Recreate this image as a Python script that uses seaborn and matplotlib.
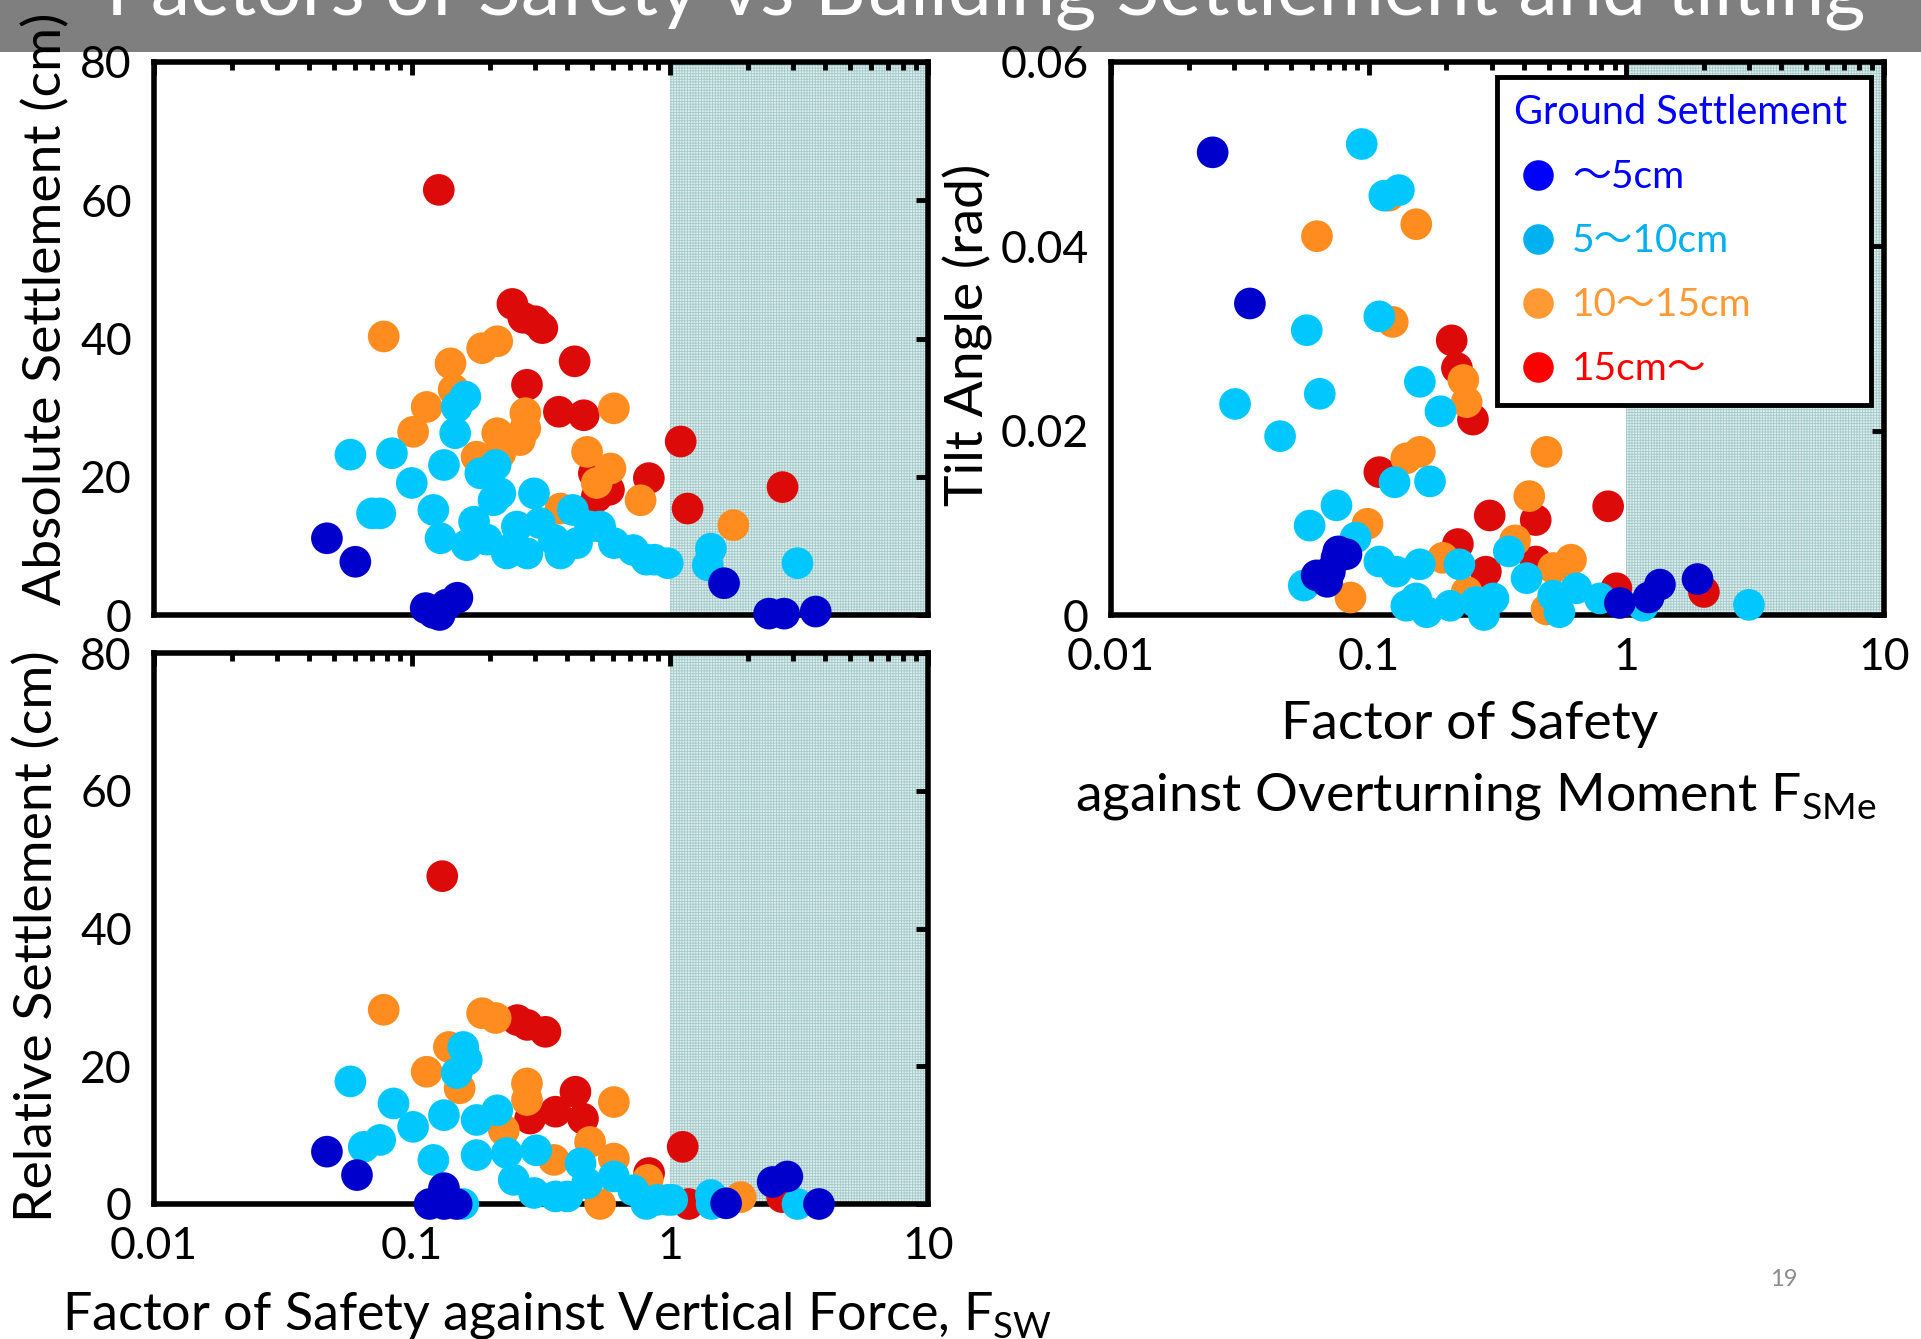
import numpy as np
import pandas as pd
import matplotlib
matplotlib.use("Agg")
import matplotlib.pyplot as plt
import seaborn as sns
from matplotlib.ticker import LogLocator, NullFormatter, NullLocator, FixedLocator
from matplotlib.lines import Line2D
from matplotlib.patches import Rectangle

# ---------------- data ----------------
groups = ["15cm～", "10～15cm", "5～10cm", "～5cm"]          # draw order
legend_order = ["～5cm", "5～10cm", "10～15cm", "15cm～"]

# Absolute settlement (cm) vs F_SW
abs_red_fs = [0.127, 0.245, 0.27, 0.30, 0.32, 0.427, 0.279, 0.371, 0.463, 1.10, 0.828, 1.17, 0.507, 0.58, 0.52, 2.73]
abs_red_cm = [61.5, 45.0, 43.0, 42.5, 41.5, 36.7, 33.3, 29.4, 28.9, 25.1, 19.8, 15.4, 20.5, 18.1, 17.1, 18.5]
abs_orange_fs = [0.0777, 0.187, 0.214, 0.141, 0.145, 0.114, 0.101, 0.275, 0.275, 0.214, 0.262, 0.22, 0.178, 0.606, 0.477, 0.588, 0.52, 0.769, 0.376, 1.76]
abs_orange_cm = [40.3, 38.6, 39.6, 36.4, 32.6, 30.1, 26.5, 29.2, 27.0, 26.3, 25.3, 23.4, 22.9, 29.9, 23.6, 21.2, 19.1, 16.6, 15.4, 13.0]
abs_cyan_fs = [0.0577, 0.0836, 0.161, 0.149, 0.147, 0.133, 0.0998, 0.07, 0.0753, 0.121, 0.129, 0.163, 0.174, 0.184, 0.211, 0.22, 0.248, 0.255, 0.297, 0.313, 0.376, 0.42, 0.49, 0.536, 0.606, 0.72, 0.81, 0.98, 0.28, 0.233, 0.207, 0.195, 0.436, 0.355, 1.44, 1.40, 3.12, 0.87]
abs_cyan_cm = [23.2, 23.4, 31.6, 30.1, 26.3, 21.7, 19.1, 14.7, 14.7, 15.2, 11.1, 10.1, 13.5, 20.5, 21.7, 17.6, 9.9, 12.8, 17.6, 13.3, 8.9, 15.2, 12.8, 12.8, 10.4, 9.4, 8.0, 7.5, 8.9, 8.9, 16.6, 10.9, 10.4, 10.9, 9.6, 7.2, 7.5, 8.0]
abs_blue_fs = [0.0468, 0.0603, 0.113, 0.121, 0.128, 0.136, 0.15, 1.62, 2.42, 2.77, 3.67]
abs_blue_cm = [11.1, 7.7, 1.0, 0.3, 0.0, 1.5, 2.5, 4.6, 0.2, 0.2, 0.5]

# Relative settlement (cm) vs F_SW
rel_red_fs = [0.131, 0.256, 0.28, 0.329, 0.43, 0.36, 0.46, 0.287, 1.12, 0.83, 1.18, 2.72]
rel_red_cm = [47.6, 26.7, 26.0, 25.0, 16.3, 13.4, 12.4, 12.4, 8.3, 4.5, 0.0, 1.0]
rel_orange_fs = [0.0777, 0.187, 0.211, 0.139, 0.114, 0.153, 0.279, 0.279, 0.606, 0.49, 0.606, 0.227, 0.355, 0.536, 0.82, 1.88]
rel_orange_cm = [28.2, 27.7, 27.0, 22.8, 19.2, 16.8, 17.5, 15.1, 14.8, 9.0, 6.6, 10.7, 6.4, 0.0, 3.5, 1.0]
rel_cyan_fs = [0.0577, 0.0848, 0.101, 0.0753, 0.065, 0.133, 0.158, 0.163, 0.149, 0.121, 0.178, 0.214, 0.178, 0.233, 0.303, 0.248, 0.297, 0.36, 0.45, 0.477, 0.606, 0.72, 0.98, 0.81, 0.158, 0.40, 0.89, 1.02, 1.44, 1.45, 3.12]
rel_cyan_cm = [17.8, 14.6, 11.2, 9.3, 8.3, 12.9, 22.8, 20.9, 19.0, 6.4, 12.2, 13.6, 7.1, 7.4, 7.8, 3.5, 1.6, 1.1, 5.9, 3.0, 4.0, 2.0, 0.6, 0.0, 0.0, 1.1, 0.6, 0.6, 1.3, 0.0, 0.0]
rel_blue_fs = [0.0468, 0.0612, 0.133, 0.117, 0.149, 0.133, 1.65, 2.5, 2.85, 3.78]
rel_blue_cm = [7.6, 4.2, 2.3, 0.0, 0.0, 0.0, 0.1, 3.2, 4.0, 0.0]

# Tilt angle (rad) vs F_SMe
tilt_red_fs = [0.21, 0.22, 0.254, 0.11, 0.295, 0.445, 0.85, 0.222, 0.285, 0.445, 0.915, 2.0]
tilt_red_rad = [0.0298, 0.0268, 0.0212, 0.0155, 0.0108, 0.0103, 0.0118, 0.0077, 0.0047, 0.0058, 0.0029, 0.0025]
tilt_orange_fs = [0.063, 0.153, 0.12, 0.124, 0.233, 0.24, 0.158, 0.14, 0.49, 0.42, 0.099, 0.085, 0.61, 0.52, 0.194, 0.37, 0.24, 0.49]
tilt_orange_rad = [0.0411, 0.0424, 0.0455, 0.0318, 0.0255, 0.0231, 0.0177, 0.017, 0.0177, 0.0129, 0.0099, 0.0019, 0.006, 0.0051, 0.0062, 0.0081, 0.0025, 0.0006]
tilt_cyan_fs = [0.094, 0.115, 0.131, 0.0575, 0.110, 0.0303, 0.0646, 0.0453, 0.158, 0.19, 0.126, 0.173, 0.075, 0.059, 0.089, 0.11, 0.056, 0.128, 0.158, 0.225, 0.35, 0.41, 0.153, 0.168, 0.207, 0.26, 0.305, 0.52, 0.64, 0.79, 0.14, 0.28, 0.55, 2.99, 1.16]
tilt_cyan_rad = [0.0511, 0.0455, 0.0461, 0.0309, 0.0324, 0.0229, 0.024, 0.0194, 0.0253, 0.0221, 0.0144, 0.0145, 0.0119, 0.0097, 0.0084, 0.0058, 0.0032, 0.0047, 0.0055, 0.0055, 0.0069, 0.004, 0.0018, 0.0003, 0.001, 0.0014, 0.0018, 0.0021, 0.0029, 0.0018, 0.001, 0.0, 0.0003, 0.0011, 0.001]
tilt_blue_fs = [0.0248, 0.0346, 0.0762, 0.0707, 0.0628, 0.075, 0.082, 0.069, 0.944, 1.22, 1.35, 1.89]
tilt_blue_rad = [0.0502, 0.0338, 0.0069, 0.0047, 0.0043, 0.0062, 0.0066, 0.0036, 0.0013, 0.0019, 0.0033, 0.0039]

x_ticks = [0.01, 0.1, 1, 10]
x_ticklabels = ["0.01", "0.1", "1", "10"]
cm_ticks = [0, 20, 40, 60, 80]
cm_ticklabels = ["0", "20", "40", "60", "80"]
rad_ticks = [0, 0.02, 0.04, 0.06]
rad_ticklabels = ["0", "0.02", "0.04", "0.06"]

point_colors = {"～5cm": "#0000CC", "5～10cm": "#00C8FF", "10～15cm": "#FF8C1E", "15cm～": "#DD0A0A"}
legend_colors = ["#0000FF", "#00B0F0", "#FF9933", "#FF0000"]


def make_df(red_x, red_y, orange_x, orange_y, cyan_x, cyan_y, blue_x, blue_y):
    parts = []
    for g, xs, ys in zip(groups, [red_x, orange_x, cyan_x, blue_x], [red_y, orange_y, cyan_y, blue_y]):
        parts.append(pd.DataFrame({"fs": xs, "val": ys, "group": g}))
    return pd.concat(parts, ignore_index=True)


df_abs = make_df(abs_red_fs, abs_red_cm, abs_orange_fs, abs_orange_cm, abs_cyan_fs, abs_cyan_cm, abs_blue_fs, abs_blue_cm)
df_rel = make_df(rel_red_fs, rel_red_cm, rel_orange_fs, rel_orange_cm, rel_cyan_fs, rel_cyan_cm, rel_blue_fs, rel_blue_cm)
df_tilt = make_df(tilt_red_fs, tilt_red_rad, tilt_orange_fs, tilt_orange_rad, tilt_cyan_fs, tilt_cyan_rad, tilt_blue_fs, tilt_blue_rad)

# ---------------- style ----------------
sns.set_style("white")
plt.rcParams["font.family"] = ["Lato", "Noto Sans CJK JP", "DejaVu Sans"]
plt.rcParams["text.color"] = "black"
plt.rcParams["axes.labelcolor"] = "black"
plt.rcParams["xtick.color"] = "black"
plt.rcParams["ytick.color"] = "black"
plt.rcParams["hatch.linewidth"] = 0.6
plt.rcParams["axes.unicode_minus"] = False

W, H = 1921, 1339
fig = plt.figure(figsize=(W / 100, H / 100), dpi=100)
fig.patch.set_facecolor("white")


def fx(px):
    return px / W


def fy(py):
    return 1 - py / H


ax_abs = fig.add_axes([fx(154), fy(615), (928 - 154) / W, (615 - 62) / H])
ax_rel = fig.add_axes([fx(154), fy(1204), (928 - 154) / W, (1204 - 653) / H])
ax_tilt = fig.add_axes([fx(1111), fy(615), (1884 - 1111) / W, (615 - 62) / H])


def panel(ax, df, ylim, yticks, yticklabels, show_x):
    ax.axvspan(1, 10, facecolor="#e0eeee", edgecolor="#a3c9c9", hatch="++++++", linewidth=0, zorder=0)
    sns.scatterplot(data=df, x="fs", y="val", hue="group", hue_order=groups, palette=point_colors,
                    s=520, linewidth=0, legend=False, ax=ax, clip_on=False, zorder=3)
    ax.set_xscale("log")
    ax.set_xlim(0.01, 10)
    ax.set_ylim(*ylim)
    ax.xaxis.set_major_locator(FixedLocator(x_ticks))
    ax.xaxis.set_minor_locator(LogLocator(base=10, subs=np.arange(2, 10), numticks=20))
    ax.xaxis.set_minor_formatter(NullFormatter())
    ax.set_xticks(x_ticks)
    ax.set_xticklabels(x_ticklabels if show_x else [])
    ax.set_yticks(yticks)
    ax.set_yticklabels(yticklabels)
    ax.yaxis.set_minor_locator(NullLocator())
    ax.tick_params(which="major", direction="in", length=9, width=3.5, top=True, right=True,
                   labelsize=32, pad=16)
    ax.tick_params(which="minor", direction="in", length=5.5, width=3.5, top=True, right=True)
    ax.tick_params(axis="x", labelbottom=show_x)
    for s in ax.spines.values():
        s.set_linewidth(4)
        s.set_color("black")
    ax.set_xlabel("")
    ax.set_ylabel("")


panel(ax_abs, df_abs, (0, 80), cm_ticks, cm_ticklabels, False)
panel(ax_rel, df_rel, (0, 80), cm_ticks, cm_ticklabels, True)
panel(ax_tilt, df_tilt, (0, 0.06), rad_ticks, rad_ticklabels, True)

# axis labels
ax_abs.set_ylabel("Absolute Settlement (cm)", fontsize=38.5, va="center", ha="center")
ax_abs.yaxis.set_label_coords(-0.140, 0.553)
ax_rel.set_ylabel("Relative Settlement (cm)", fontsize=38.5, va="center", ha="center")
ax_rel.yaxis.set_label_coords(-0.151, 0.486)
ax_rel.set_xlabel(r"Factor of Safety against Vertical Force, F$_{\mathregular{SW}}$", fontsize=37.5,
                  va="baseline", ha="center")
ax_rel.xaxis.set_label_coords(0.521, -0.227)
ax_tilt.set_ylabel("Tilt Angle (rad)", fontsize=38.5, va="center", ha="center")
ax_tilt.yaxis.set_label_coords(-0.185, 0.507)
ax_tilt.set_xlabel(r"against Overturning Moment F$_{\mathregular{SMe}}$", fontsize=38.5,
                   va="baseline", ha="center")
ax_tilt.xaxis.set_label_coords(0.472, -0.354)
ax_tilt.text(0.464, -0.224, "Factor of Safety", transform=ax_tilt.transAxes, fontsize=38.5,
             ha="center", va="baseline")

# legend
handles = [Line2D([0], [0], marker="o", linestyle="", markersize=22, markerfacecolor=c,
                  markeredgecolor=c, markeredgewidth=0) for c in legend_colors]
leg = ax_tilt.legend(handles, legend_order, loc="upper left",
                     bbox_to_anchor=(fx(1497), fy(407), (1871 - 1497) / W, (407 - 77) / H),
                     bbox_transform=fig.transFigure, mode="expand", title="Ground Settlement",
                     fontsize=28, title_fontsize=28.5, frameon=True, fancybox=False, framealpha=1,
                     edgecolor="black", borderpad=0.45, labelspacing=0.72, handlelength=1.2,
                     handletextpad=0.28, borderaxespad=0, alignment="left", labelcolor=legend_colors)
leg.get_title().set_color("#0000FF")
leg.get_frame().set_linewidth(3.5)
leg.set_zorder(6)

# slide title bar and page number
fig.add_artist(Rectangle((0, fy(52)), 1, 52 / H, transform=fig.transFigure, facecolor="#7f7f7f",
                         edgecolor="none", zorder=-2))
fig.text(fx(986), fy(14), "Factors of Safety vs Building Settlement and tilting", color="white",
         fontsize=57, ha="center", va="baseline", zorder=-1)
fig.text(fx(1784), fy(1280), "19", color="#8c8c8c", fontsize=17, ha="center", va="center")

fig.savefig("out.png", dpi=100)
